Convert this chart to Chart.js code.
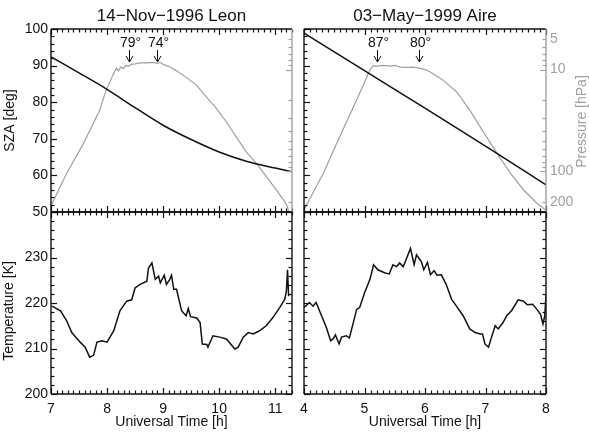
<!DOCTYPE html>
<html>
<head>
<meta charset="utf-8">
<script src="https://cdn.jsdelivr.net/npm/chart.js@4.4.1/dist/chart.umd.min.js"></script>
<style>
  html, body { margin: 0; padding: 0; background: #fff; }
  #wrap { position: relative; width: 589px; height: 436px; }
  #wrap canvas { position: absolute; left: 0; top: 0; }
</style>
</head>
<body>
<div id="wrap">
  <canvas id="tl" width="589" height="436"></canvas>
  <canvas id="tr" width="589" height="436"></canvas>
  <canvas id="bl" width="589" height="436"></canvas>
  <canvas id="br" width="589" height="436"></canvas>
</div>
<script>
// ---- data ----
const panelTitles = ['14−Nov−1996 Leon', '03−May−1999 Aire'];

const szaTicks = [50, 60, 70, 80, 90, 100];
const tempTicks = [200, 210, 220, 230];
const pressureTicks = [5, 10, 100, 200];
const leonHourTicks = [7, 8, 9, 10, 11];
const aireHourTicks = [4, 5, 6, 7, 8];

// solar zenith angle (black, top panels)
const leonSzaTime = [7.0, 7.5, 8.0, 8.5, 9.0, 9.5, 10.0, 10.5, 11.0, 11.3];
const leonSza     = [92.4, 88.0, 83.5, 78.5, 73.7, 69.8, 66.4, 63.8, 62.0, 61.0];
const aireSzaTime = [4, 5, 6, 7, 8];
const aireSza     = [98.9, 88.6, 78.4, 68.0, 57.4];

// balloon pressure (grey, top panels)
const leonPresTime = [7.00, 7.28, 7.58, 7.87, 7.98, 8.09, 8.13, 8.17, 8.20, 8.25, 8.29, 8.33, 8.38, 8.43, 8.50,
  8.60, 8.70, 8.80, 8.90, 8.95, 9.00, 9.10, 9.24, 9.42, 9.60, 9.77, 9.95, 10.13, 10.30, 10.48, 10.66, 10.84,
  11.02, 11.17, 11.22, 11.25];
const leonPres = [218, 104, 53, 24.9, 16.1, 11.8, 10.6, 9.7, 10.3, 9.4, 9.8, 9.1, 9.3, 8.9, 8.8,
  8.6, 8.6, 8.5, 8.7, 8.5, 8.9, 9.3, 10.3, 12.0, 14.3, 18.5, 24.0, 32.7, 45.6, 64, 83, 112,
  152, 198, 222, 270];
const airePresTime = [4.00, 4.32, 4.59, 4.87, 5.09, 5.14, 5.20, 5.30, 5.42, 5.50, 5.60, 5.69, 5.80, 5.91, 6.00,
  6.08, 6.30, 6.52, 6.74, 6.96, 7.19, 7.41, 7.63, 7.85, 8.00];
const airePres = [238, 104, 45.6, 19.9, 10.1, 9.2, 9.25, 9.1, 9.25, 9.1, 9.45, 9.5, 9.45, 9.7, 10.0,
  10.5, 12.7, 16.5, 25, 40.7, 66, 104, 152, 205, 240];

// temperature (bottom panels)
const leonTempTime = [7.02, 7.17, 7.28, 7.37, 7.52, 7.61, 7.69, 7.76, 7.82, 7.91, 8.00, 8.12, 8.23, 8.35, 8.44,
  8.50, 8.59, 8.71, 8.74, 8.80, 8.86, 8.92, 8.95, 9.02, 9.06, 9.12, 9.15, 9.19, 9.24, 9.33, 9.41, 9.45, 9.49,
  9.60, 9.66, 9.70, 9.78, 9.80, 9.89, 10.01, 10.13, 10.28, 10.34, 10.43, 10.52, 10.61, 10.72, 10.84, 10.96,
  11.08, 11.17, 11.20, 11.22, 11.24];
const leonTemp = [219.3, 218.3, 216.1, 213.5, 211.4, 210.3, 208.1, 208.5, 211.4, 211.7, 211.4, 213.9, 218.3, 220.4, 220.7,
  223.3, 224.1, 224.8, 227.7, 228.8, 225.2, 225.9, 224.4, 226.1, 224.1, 225.2, 226.1, 223.0, 223.0, 218.3, 217.2, 218.8, 217.0,
  216.7, 215.7, 211.0, 210.9, 210.3, 212.8, 212.5, 212.1, 209.9, 210.3, 212.5, 213.5, 213.2, 213.9, 215.0, 216.8,
  219.0, 220.8, 222.6, 227.3, 221.5];
const aireTempTime = [4.00, 4.09, 4.15, 4.20, 4.29, 4.37, 4.44, 4.48, 4.52, 4.58, 4.62, 4.70, 4.75, 4.81, 4.87,
  4.92, 5.00, 5.09, 5.15, 5.22, 5.34, 5.41, 5.47, 5.53, 5.58, 5.64, 5.68, 5.76, 5.82, 5.86, 5.94, 5.98, 6.04,
  6.09, 6.15, 6.20, 6.27, 6.35, 6.44, 6.52, 6.63, 6.74, 6.83, 6.91, 6.95, 6.99, 7.05, 7.10, 7.16, 7.21, 7.29,
  7.35, 7.43, 7.54, 7.63, 7.69, 7.78, 7.85, 7.91, 7.95, 7.98, 8.00];
const aireTemp = [219.0, 220.1, 219.3, 220.1, 217.2, 214.6, 211.7, 212.1, 213.0, 211.0, 212.5, 212.8, 212.3, 215.4, 218.6,
  219.0, 222.2, 225.2, 228.4, 227.3, 226.6, 226.4, 228.4, 228.0, 228.8, 228.0, 229.3, 232.0, 228.4, 230.6, 229.1, 227.3, 228.9,
  226.2, 227.1, 226.1, 226.2, 224.1, 220.8, 219.3, 217.2, 214.3, 213.5, 213.2, 213.2, 211.0, 210.3, 212.5, 215.0, 214.3, 215.7,
  217.2, 218.3, 220.7, 220.4, 219.6, 219.7, 218.6, 217.5, 215.4, 217.2, 221.9];

// SZA markers at float time
const leonArrowTimes = [8.39, 8.89];
const leonArrowLabels = ['79°', '74°'];
const aireArrowTimes = [5.20, 5.90];
const aireArrowLabels = ['87°', '80°'];

// ---- look ----
const INK = '#111';
const GREY = '#a0a0a0';
Chart.defaults.font.family = '"Liberation Sans", Arial, Helvetica, sans-serif';
Chart.defaults.font.size = 14;
Chart.defaults.color = INK;

const xy = (xs, ys) => xs.map((x, i) => ({ x: x, y: ys[i] }));
const fixTicks = list => scale => { scale.ticks = list.map(v => ({ value: v })); };

// IDL-like frame: inward ticks on all sides + arrows / rotated titles
const panelFrame = {
  id: 'panelFrame',
  afterDraw(chart) {
    const o = chart.options.plugins.panelFrame;
    const { ctx, chartArea: a, scales } = chart;
    const xs = scales.x, ys = scales.y;
    const line = (x0, y0, x1, y1) => { ctx.beginPath(); ctx.moveTo(x0, y0); ctx.lineTo(x1, y1); ctx.stroke(); };
    ctx.save();
    ctx.lineWidth = 1.2;
    ctx.strokeStyle = INK;
    // x ticks every 0.1 h
    for (let k = Math.ceil(xs.min * 10 - 1e-6); k <= Math.floor(xs.max * 10 + 1e-6); k++) {
      const px = Math.round(xs.getPixelForValue(k / 10)) + 0.5;
      const len = k % 10 === 0 ? 6 : 3.5;
      line(px, a.bottom, px, a.bottom - len);
      line(px, a.top, px, a.top + len);
    }
    // y ticks every 2 units
    for (let v = ys.min; v <= ys.max; v += 2) {
      const py = Math.round(ys.getPixelForValue(v)) + 0.5;
      const len = v % 10 === 0 ? 6 : 3.5;
      line(a.left, py, a.left + len, py);
      if (!o.pressure) line(a.right, py, a.right - len, py);
    }
    // log pressure ticks on the right
    if (o.pressure) {
      const ps = scales.p;
      ctx.strokeStyle = GREY;
      [1, 10, 100].forEach(d => {
        for (let m = 1; m <= 9; m++) {
          const v = m * d;
          if (v < ps.min || v > ps.max) continue;
          const py = Math.round(ps.getPixelForValue(v)) + 0.5;
          line(a.right, py, a.right - (m === 1 ? 6 : 3.5), py);
        }
      });
    }
    // frame
    ctx.lineWidth = 1.4;
    ctx.strokeStyle = INK;
    line(a.left, a.top, a.left, a.bottom);
    line(a.left, a.top, a.right, a.top);
    line(a.left, a.bottom, a.right, a.bottom);
    ctx.strokeStyle = o.pressure ? GREY : INK;
    line(a.right, a.top, a.right, a.bottom);

    // arrows with SZA labels
    if (o.arrows) {
      ctx.strokeStyle = INK;
      ctx.fillStyle = INK;
      ctx.lineWidth = 1;
      ctx.font = '14px "Liberation Sans", Arial, sans-serif';
      ctx.textAlign = 'center';
      ctx.textBaseline = 'middle';
      o.arrows.times.forEach((t, i) => {
        const px = Math.round(xs.getPixelForValue(t)) + 0.5;
        ctx.fillText(o.arrows.labels[i], px + 1, a.top + 14);
        line(px, a.top + 21, px, a.top + 33);
        line(px - 3.5, a.top + 27, px, a.top + 33);
        line(px + 3.5, a.top + 27, px, a.top + 33);
      });
    }
    // rotated titles that Chart.js cannot place
    (o.sideTitles || []).forEach(st => {
      ctx.save();
      ctx.fillStyle = st.color;
      ctx.font = '14px "Liberation Sans", Arial, sans-serif';
      ctx.textAlign = 'center';
      ctx.textBaseline = 'middle';
      ctx.translate(st.side === 'right' ? a.right + st.dx : a.left - st.dx, (a.top + a.bottom) / 2 + st.dy);
      ctx.rotate(-Math.PI / 2);
      ctx.fillText(st.text, 0, 0);
      ctx.restore();
    });
    ctx.restore();
  }
};

const hideGrid = { grid: { display: false, drawTicks: false }, border: { display: false } };

function topPanel(id, idx, xmin, xmax, sza, szaT, pres, presT, arrows, isRight) {
  return new Chart(document.getElementById(id), {
    type: 'line',
    data: {
      datasets: [
        { data: xy(szaT, sza), yAxisID: 'y', borderColor: INK, borderWidth: 1.5, pointRadius: 0, cubicInterpolationMode: 'monotone' },
        { data: xy(presT, pres), yAxisID: 'p', borderColor: GREY, borderWidth: 1.2, pointRadius: 0, tension: 0 }
      ]
    },
    options: {
      responsive: false,
      animation: false,
      events: [],
      layout: { padding: isRight ? { left: 304, right: 0, top: 0, bottom: 224 } : { left: 0, right: 297, top: 0, bottom: 224 } },
      scales: {
        x: { type: 'linear', min: xmin, max: xmax, display: false },
        y: {
          type: 'linear', min: 50, max: 100, position: 'left', display: !isRight, ...hideGrid,
          afterBuildTicks: fixTicks(szaTicks),
          afterFit: s => { s.width = isRight ? 0 : 51; },
          ticks: { padding: 3, callback: v => v },
          title: { display: true, text: 'SZA [deg]', padding: { top: 2, bottom: 0 } }
        },
        p: {
          type: 'logarithmic', min: 4, max: 250, reverse: true, position: 'right', display: isRight, ...hideGrid,
          afterBuildTicks: fixTicks(pressureTicks),
          afterFit: s => { s.width = isRight ? 43 : 0; },
          ticks: { padding: 4, color: GREY, callback: v => String(v) }
        }
      },
      plugins: {
        legend: { display: false },
        tooltip: { enabled: false },
        title: { display: true, fullSize: false, text: panelTitles[idx], font: { size: 17, weight: 'normal' }, padding: { top: 6, bottom: 2.6 } },
        panelFrame: {
          pressure: true,
          arrows: arrows,
          sideTitles: isRight ? [{ text: 'Pressure [hPa]', side: 'right', dx: 36, dy: 1, color: GREY }] : []
        }
      }
    },
    plugins: [panelFrame]
  });
}

function bottomPanel(id, xmin, xmax, hourTicks, temp, tempT, isRight) {
  return new Chart(document.getElementById(id), {
    type: 'line',
    data: {
      datasets: [
        { data: xy(tempT, temp), borderColor: INK, borderWidth: 1.5, pointRadius: 0, tension: 0 }
      ]
    },
    options: {
      responsive: false,
      animation: false,
      events: [],
      layout: { padding: isRight ? { left: 304, right: 43, top: 212, bottom: 0 } : { left: 0, right: 297, top: 212, bottom: 0 } },
      scales: {
        x: {
          type: 'linear', min: xmin, max: xmax, position: 'bottom', ...hideGrid,
          afterBuildTicks: fixTicks(hourTicks),
          afterFit: s => { s.height = 42; },
          ticks: { padding: 7, callback: v => v },
          title: { display: true, text: 'Universal Time [h]', padding: { top: 0, bottom: 5 } }
        },
        y: {
          type: 'linear', min: 200, max: 240, position: 'left', display: !isRight, ...hideGrid,
          afterBuildTicks: fixTicks(tempTicks),
          afterFit: s => { s.width = isRight ? 0 : 51; },
          ticks: { padding: 3, callback: v => v }
        }
      },
      plugins: {
        legend: { display: false },
        tooltip: { enabled: false },
        panelFrame: {
          pressure: false,
          sideTitles: isRight ? [] : [{ text: 'Temperature [K]', side: 'left', dx: 41.5, dy: 8, color: INK }]
        }
      }
    },
    plugins: [panelFrame]
  });
}

topPanel('tl', 0, 7, 11.3, leonSza, leonSzaTime, leonPres, leonPresTime, { times: leonArrowTimes, labels: leonArrowLabels }, false);
topPanel('tr', 1, 4, 8, aireSza, aireSzaTime, airePres, airePresTime, { times: aireArrowTimes, labels: aireArrowLabels }, true);
bottomPanel('bl', 7, 11.3, leonHourTicks, leonTemp, leonTempTime, false);
bottomPanel('br', 4, 8, aireHourTicks, aireTemp, aireTempTime, true);
</script>
</body>
</html>
